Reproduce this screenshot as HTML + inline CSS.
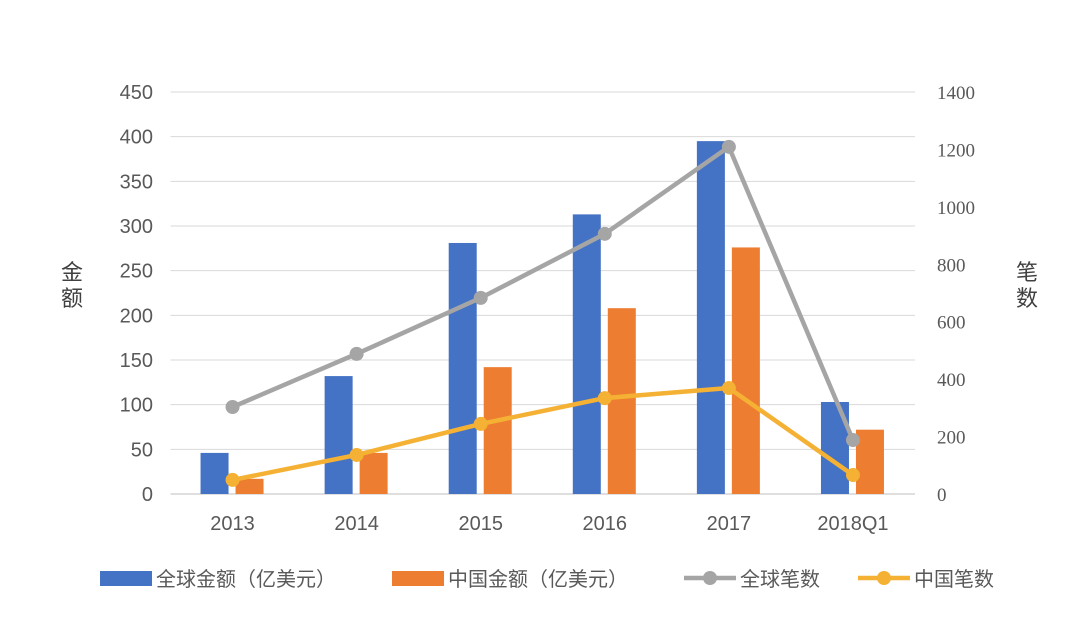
<!DOCTYPE html>
<html><head><meta charset="utf-8"><style>
body{margin:0;background:#fff;}
svg{display:block;font-family:"Liberation Sans","Noto Sans CJK SC",sans-serif;}
</style></head><body>
<svg id="chart" width="1084" height="620"></svg>
<script>
const categories=["2013","2014","2015","2016","2017","2018Q1"];
const globalAmount=[46,132,281,313,395,103];
const chinaAmount=[17,46,142,208,276,72];
const globalCount=[303,488,683,906,1209,188];
const chinaCount=[49,136,244,334,369,66];
const leftTicks=[0,50,100,150,200,250,300,350,400,450];
const rightTicks=[0,200,400,600,800,1000,1200,1400];
const NS="http://www.w3.org/2000/svg";
const svg=document.getElementById('chart');
const x0=170.5,x1=915,y0=494,yTop=92;
const band=(x1-x0)/categories.length;
const cx=i=>x0+band*(i+0.5);
const yL=v=>y0-(v/450)*(y0-yTop);
const yR=v=>y0-(v/1400)*(y0-yTop);
function mk(tag,attrs,parent){const e=document.createElementNS(NS,tag);for(const k in attrs)e.setAttribute(k,attrs[k]);(parent||svg).appendChild(e);return e;}
leftTicks.forEach(t=>{
 const g=mk('line',{x1:x0,x2:x1,y1:yL(t),y2:yL(t),stroke:t===0?'#bfbfbf':'#d9d9d9','stroke-width':1});
 
 
 const l=mk('text',{x:153,y:yL(t)+7,'text-anchor':'end','font-size':20,fill:'#595959'});
 l.textContent=t;
 
 
});
rightTicks.forEach(t=>{
 const l=mk('text',{x:937,y:yR(t)+7,'text-anchor':'start','font-size':19,fill:'#595959','font-family':'Liberation Serif,serif'});
 l.textContent=t;
 
 
});
categories.forEach((c,i)=>{
 const b1=mk('rect',{x:cx(i)-32,y:yL(globalAmount[i]),width:28,height:y0-yL(globalAmount[i]),fill:'#4472c4'});
 
 
 const b2=mk('rect',{x:cx(i)+3,y:yL(chinaAmount[i]),width:28,height:y0-yL(chinaAmount[i]),fill:'#ed7d31'});
 
 
 const l=mk('text',{x:cx(i),y:530,'text-anchor':'middle','font-size':20,fill:'#595959'});
 l.textContent=c;
 
 
});
function line(vals,color,name){
 const p=mk('polyline',{points:vals.map((v,i)=>cx(i)+','+yR(v)).join(' '),fill:'none',stroke:color,'stroke-width':4.5,'stroke-linejoin':'round'});
 
 
 vals.forEach((v,i)=>{
  const c=mk('circle',{cx:cx(i),cy:yR(v),r:7,fill:color});
  
  
 });
}
line(globalCount,'#a5a5a5','global-count');
line(chinaCount,'#f4b133','china-count');
const t1=mk('text',{x:72,y:280,'text-anchor':'middle','font-size':22,fill:'#404040'});t1.textContent='金';


const t1b=mk('text',{x:72,y:306,'text-anchor':'middle','font-size':22,fill:'#404040'});t1b.textContent='额';


const t2=mk('text',{x:1027,y:280,'text-anchor':'middle','font-size':22,fill:'#404040'});t2.textContent='笔';


const t2b=mk('text',{x:1027,y:306,'text-anchor':'middle','font-size':22,fill:'#404040'});t2b.textContent='数';


const legend=[['rect','#4472c4','全球金额（亿美元）',100],['rect','#ed7d31','中国金额（亿美元）',392],['line','#a5a5a5','全球笔数',684],['line','#f4b133','中国笔数',858]];
legend.forEach(([k,col,txt,x])=>{
 if(k==='rect'){const r=mk('rect',{x:x,y:571,width:52,height:15,fill:col});}
 else{const l=mk('line',{x1:x,x2:x+52,y1:578,y2:578,stroke:col,'stroke-width':4.5});
  const c=mk('circle',{cx:x+26,cy:578,r:7,fill:col});}
 const t=mk('text',{x:x+56,y:586,'font-size':20,fill:'#595959'});t.textContent=txt;
 
 
});
</script>
</body></html>
